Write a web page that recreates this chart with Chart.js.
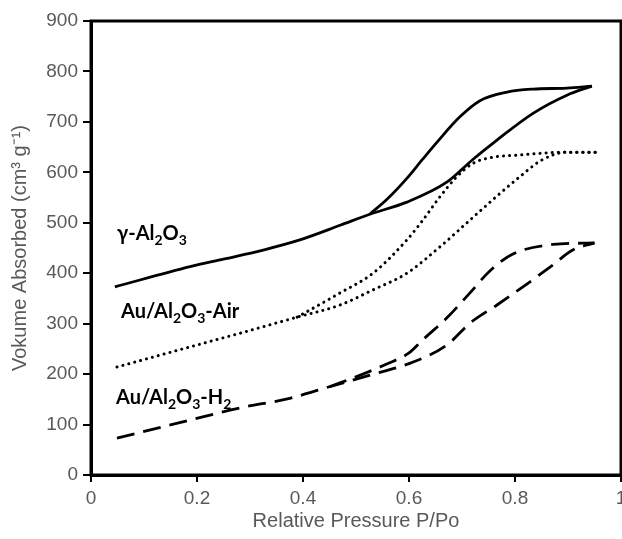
<!DOCTYPE html>
<html>
<head>
<meta charset="utf-8">
<script src="https://cdn.jsdelivr.net/npm/chart.js@4.4.1/dist/chart.umd.min.js"></script>
<style>
  html, body { margin: 0; padding: 0; background: #fff; }
  #wrap { width: 622px; height: 539px; }
</style>
</head>
<body>
<div id="wrap"><canvas id="myChart" width="622" height="539"></canvas></div>
<script>
// gamma-Al2O3 (solid)
const gammaAdsX = [0.045, 0.187, 0.25, 0.325, 0.394, 0.47, 0.526, 0.596, 0.672, 0.721, 0.766, 0.834, 0.898, 0.945];
const gammaAdsY = [373, 413, 428, 446, 466, 495, 517, 541, 581, 626, 664, 717, 753, 771];
const gammaDesX = [0.526, 0.558, 0.596, 0.625, 0.653, 0.696, 0.734, 0.785, 0.834, 0.898, 0.945];
const gammaDesY = [517, 546, 588, 625, 660, 710, 742, 759, 765, 767, 771];

// Au/Al2O3-Air (dotted)
const airAdsX = [0.049, 0.187, 0.281, 0.389, 0.47, 0.532, 0.596, 0.658, 0.721, 0.766, 0.81, 0.85, 0.898, 0.957];
const airAdsY = [214, 254, 281, 313, 337, 367, 400, 452, 511, 553, 592, 624, 640, 640];
const airDesX = [0.389, 0.47, 0.532, 0.596, 0.626, 0.658, 0.69, 0.721, 0.758, 0.804, 0.898, 0.957];
const airDesY = [313, 361, 400, 466, 505, 551, 591, 618, 630, 634, 640, 640];

// Au/Al2O3-H2 (dashed)
const h2AdsX = [0.049, 0.187, 0.281, 0.375, 0.45, 0.52, 0.608, 0.672, 0.715, 0.766, 0.815, 0.866, 0.909, 0.95];
const h2AdsY = [73, 109, 133, 152, 175, 196, 224, 258, 301, 337, 373, 412, 446, 460];
const h2DesX = [0.45, 0.513, 0.558, 0.6, 0.626, 0.672, 0.715, 0.753, 0.796, 0.872, 0.95];
const h2DesY = [175, 200, 220, 242, 268, 312, 361, 405, 438, 457, 460];

const xTicks = [0, 0.2, 0.4, 0.6, 0.8, 1];
const yTicks = [0, 100, 200, 300, 400, 500, 600, 700, 800, 900];

const labels = [
  { parts: [['γ-Al', 0], ['2', 1], ['O', 0], ['3', 1]], x: 117, y: 234 },
  { parts: [['Au/Al', 0], ['2', 1], ['O', 0], ['3', 1], ['-Air', 0]], x: 121, y: 312 },
  { parts: [['Au/Al', 0], ['2', 1], ['O', 0], ['3', 1], ['-H', 0], ['2', 1]], x: 116, y: 398 }
];

const pts = (xs, ys) => xs.map((x, i) => ({ x: x, y: ys[i] }));

const lineSet = (xs, ys, style) => ({
  data: pts(xs, ys),
  showLine: true,
  borderColor: '#000',
  borderWidth: style === 'dot' ? 3 : 2.8,
  borderDash: style === 'dot' ? [0.1, 6] : style === 'dash' ? [18, 9] : [],
  borderCapStyle: style === 'dot' ? 'round' : 'butt',
  pointRadius: 0,
  fill: false,
  cubicInterpolationMode: 'monotone'
});

const frameAndLabels = {
  id: 'frameAndLabels',
  afterDraw(chart) {
    const { ctx, chartArea: a } = chart;
    ctx.save();
    ctx.strokeStyle = '#000';
    ctx.lineWidth = 3;
    ctx.strokeRect(a.left, a.top, a.right - a.left, a.bottom - a.top);
    ctx.fillStyle = '#000';
    ctx.textBaseline = 'middle';
    labels.forEach(l => {
      let x = l.x;
      l.parts.forEach(([t, sub]) => {
        ctx.font = sub ? 'bold 14px Lato' : 'bold 20px Lato';
        ctx.fillText(t, x, sub ? l.y + 6 : l.y);
        x += ctx.measureText(t).width;
      });
    });
    ctx.restore();
  }
};

new Chart(document.getElementById('myChart').getContext('2d'), {
  type: 'scatter',
  data: {
    datasets: [
      lineSet(gammaAdsX, gammaAdsY),
      lineSet(gammaDesX, gammaDesY),
      lineSet(airAdsX, airAdsY, 'dot'),
      lineSet(airDesX, airDesY, 'dot'),
      lineSet(h2AdsX, h2AdsY, 'dash'),
      lineSet(h2DesX, h2DesY, 'dash')
    ]
  },
  options: {
    responsive: false,
    animation: false,
    layout: { autoPadding: false, padding: { top: 21, right: 1, left: 0, bottom: 0 } },
    plugins: { legend: { display: false }, tooltip: { enabled: false } },
    scales: {
      x: {
        type: 'linear',
        min: 0,
        max: 1,
        afterBuildTicks: s => { s.ticks = xTicks.map(v => ({ value: v })); },
        afterFit: s => { s.height = 64; s.paddingLeft = 0; s.paddingRight = 0; },
        grid: { drawOnChartArea: false, color: '#000', tickLength: 7, lineWidth: 2 },
        border: { display: true, color: '#000', width: 3 },
        ticks: { color: '#595959', font: { family: 'Liberation Sans', size: 19 }, padding: 5, maxRotation: 0,
                 callback: v => String(v) },
        title: { display: true, text: 'Relative Pressure P/Po', color: '#595959',
                 font: { family: 'Liberation Sans', size: 20 }, padding: { top: 0, bottom: 6 } }
      },
      y: {
        min: 0,
        max: 900,
        afterBuildTicks: s => { s.ticks = yTicks.map(v => ({ value: v })); },
        afterFit: s => { s.width = 91; s.paddingTop = 0; s.paddingBottom = 0; },
        grid: { drawOnChartArea: false, color: '#000', tickLength: 8, lineWidth: 2 },
        border: { display: true, color: '#000', width: 3 },
        ticks: { color: '#595959', font: { family: 'Liberation Sans', size: 19 }, padding: 5 },
        title: { display: true, text: 'Vokume Absorbed (cm³ g⁻¹)', color: '#595959',
                 font: { family: 'Liberation Sans', size: 20 }, padding: { top: 8, bottom: 0 } }
      }
    }
  },
  plugins: [frameAndLabels]
});
</script>
</body>
</html>
